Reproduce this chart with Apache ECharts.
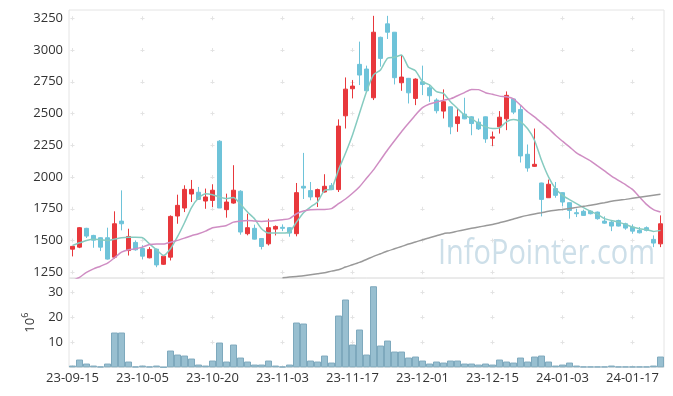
<!DOCTYPE html>
<html><head><meta charset="utf-8">
<script src="https://cdn.jsdelivr.net/npm/echarts@6/dist/echarts.min.js"></script>
<style>html,body{margin:0;padding:0;background:#fff}#c{width:673px;height:396px}</style>
</head><body><div id="c"></div>
<script>
const dates = ['23-09-15','23-09-18','23-09-19','23-09-20','23-09-21','23-09-22','23-09-25','23-09-26','23-09-27',
'23-10-04','23-10-05','23-10-06','23-10-10','23-10-11','23-10-12','23-10-13','23-10-16','23-10-17','23-10-18','23-10-19','23-10-20',
'23-10-23','23-10-24','23-10-25','23-10-26','23-10-27','23-10-30','23-10-31','23-11-01','23-11-02','23-11-03',
'23-11-06','23-11-07','23-11-08','23-11-09','23-11-10','23-11-13','23-11-14','23-11-15','23-11-16','23-11-17',
'23-11-20','23-11-21','23-11-22','23-11-23','23-11-24','23-11-27','23-11-28','23-11-29','23-11-30','23-12-01',
'23-12-04','23-12-05','23-12-06','23-12-07','23-12-08','23-12-11','23-12-12','23-12-13','23-12-14','23-12-15',
'23-12-18','23-12-19','23-12-20','23-12-21','23-12-22','23-12-26','23-12-27','23-12-28','24-01-02','24-01-03',
'24-01-04','24-01-05','24-01-08','24-01-09','24-01-10','24-01-11','24-01-12','24-01-15','24-01-16','24-01-17',
'24-01-18','24-01-19','24-01-22','24-01-23'];

const open  = [1432,1448,1596,1540,1522,1522,1369,1653,1421,1485,1437,1364,1432,1313,1369,1693,1756,1866,1880,1811,1816,2282,1743,1795,1888,1554,1596,1516,1474,1590,1604,1601,1554,1927,1893,1843,1882,1932,1901,2482,2695,2887,2850,2624,3100,3206,3140,2742,2777,2619,2750,2703,2606,2519,2553,2421,2495,2474,2432,2474,2306,2395,2458,2614,2532,2179,2084,1953,1837,1909,1877,1798,1719,1730,1732,1724,1653,1645,1658,1632,1606,1580,1601,1509,1474];
const close = [1454,1601,1535,1503,1448,1354,1632,1632,1532,1427,1377,1430,1308,1377,1690,1777,1903,1903,1824,1843,1896,1756,1803,1896,1567,1601,1511,1453,1601,1611,1596,1559,1877,1913,1843,1901,1927,1901,2401,2692,2716,2803,2679,3140,2934,3140,2782,2787,2663,2771,2729,2640,2522,2593,2395,2474,2458,2421,2379,2300,2316,2471,2643,2511,2166,2071,2100,1824,1943,1856,1803,1737,1711,1698,1711,1672,1637,1614,1614,1598,1574,1561,1580,1480,1632];
const low   = [1375,1440,1520,1443,1417,1350,1357,1580,1382,1420,1351,1360,1290,1308,1343,1632,1724,1803,1820,1750,1764,1756,1680,1790,1546,1541,1508,1430,1461,1540,1574,1530,1533,1827,1817,1764,1878,1896,1882,2382,2619,2724,2675,2606,2869,3087,2729,2679,2579,2566,2645,2592,2501,2461,2337,2356,2455,2329,2370,2269,2245,2342,2369,2495,2114,2042,2080,1690,1835,1837,1769,1672,1685,1695,1706,1664,1632,1574,1611,1585,1553,1556,1572,1448,1448];
const high  = [1458,1606,1600,1545,1525,1601,1730,1895,1593,1501,1463,1448,1437,1380,1698,1861,1935,1977,1922,1909,1943,2290,1869,2093,1896,1711,1625,1520,1672,1619,1627,1606,1953,2190,1961,1909,2022,1953,2454,2784,2763,3066,2877,3269,3105,3269,3142,2961,2780,2777,2877,2724,2620,2690,2556,2540,2624,2478,2461,2476,2358,2519,2674,2616,2566,2256,2382,1955,1980,1961,1879,1800,1751,1743,1737,1728,1690,1658,1664,1640,1627,1606,1611,1540,1698];

const ma5  = [1461,1482,1501,1511,1506,1501,1511,1522,1525,1525,1522,1474,1427,1382,1435,1530,1640,1760,1835,1869,1861,1843,1830,1838,1785,1724,1672,1593,1559,1559,1559,1566,1645,1719,1764,1803,1896,1906,2056,2187,2331,2502,2672,2804,2843,2935,2943,2961,2864,2837,2751,2725,2672,2658,2592,2540,2487,2461,2421,2395,2382,2387,2435,2453,2435,2382,2290,2132,2001,1909,1856,1822,1790,1759,1730,1706,1672,1658,1645,1627,1606,1593,1585,1572,1580];
const ma20 = [1185,1210,1250,1277,1298,1322,1364,1408,1427,1435,1448,1469,1472,1472,1487,1501,1519,1538,1554,1574,1601,1609,1619,1645,1653,1658,1653,1650,1653,1658,1664,1672,1711,1732,1743,1745,1745,1751,1790,1827,1872,1924,1990,2056,2134,2213,2286,2357,2423,2489,2546,2575,2590,2605,2615,2640,2665,2690,2688,2664,2651,2637,2632,2616,2566,2514,2474,2427,2382,2329,2282,2237,2190,2158,2127,2087,2048,2008,1974,1940,1903,1843,1785,1743,1724];
const ma60 = ['-','-','-','-','-','-','-','-','-','-','-','-','-','-','-','-','-','-','-','-','-','-','-','-','-','-','-','-','-','-',
1207,1212,1217,1222,1230,1238,1246,1259,1270,1291,1309,1328,1351,1375,1396,1417,1435,1453,1472,1488,1506,1522,1538,1554,1562,1574,1585,1596,1606,1617,1627,1640,1653,1669,1685,1698,1709,1719,1730,1738,1745,1753,1761,1769,1777,1788,1798,1809,1817,1824,1832,1840,1848,1856,1864];
const volume = [0.7,3.1,1.5,0.7,0.3,1.5,13.9,13.9,2.3,0.3,0.7,0.3,0.7,0.1,6.7,5.1,4.7,3.5,1.1,0.7,2.7,9.9,2.3,9.1,3.9,2.3,1.1,1.1,2.7,0.7,0.3,1.1,17.9,17.5,2.7,2.3,4.7,1.9,20.7,27.1,9.1,15.1,5.1,32.4,8.7,10.7,6.3,6.3,3.9,4.3,2.7,1.5,2.3,1.9,2.7,2.7,1.5,1.5,1.1,1.5,1.1,3.1,2.3,1.9,3.9,2.3,4.3,4.7,2.3,0.7,1.1,1.9,0.7,0.3,0.3,0.3,0.3,0.7,0.3,0.3,0.3,0.3,0.3,0.7,4.3];

const priceTickMin = 1250, priceTickMax = 3250, priceTickStep = 250;
const volTickStep = 10;
const watermark = 'InfoPointer.com';

// layout
const FONT = '"Open Sans", "Noto Sans", sans-serif';
const L = 69, W = 595;
const pTop = 10, pH = 268, pMin = 1205, pMax = 3315;
const k = pH / (pMax - pMin);
const lTop = pTop + (pMax - priceTickMax) * k;
const lH = (priceTickMax - priceTickMin) * k;
const vTop = pTop + pH, vH = 89.3, vMax = 35.7;
const plus = '#e3e3e3';
const tickPx = lH / ((priceTickMax - priceTickMin) / priceTickStep);
const volPx = vH * volTickStep / vMax;

const candles = dates.map((d, i) => [open[i], close[i], low[i], high[i]]);

// watermark width scale
const cv = document.createElement('canvas').getContext('2d');
cv.font = '35px "Open Sans"';
const wmScale = 217 / cv.measureText(watermark).width;

const hidden = {axisLine:{show:false},axisTick:{show:false},axisLabel:{show:false},splitLine:{show:false}};
const chart = echarts.init(document.getElementById('c'), null, {renderer:'canvas'});
chart.setOption({
  animation: false,
  backgroundColor: '#fff',
  graphic: [{
    type: 'text', z: 0, zlevel: 0, silent: true,
    x: 438, y: 254, scaleX: wmScale,
    style: {text: watermark, font: '35px "Open Sans"', fill: '#cddfe9', verticalAlign: 'middle', align: 'left'}
  }],
  grid: [
    {left: L, width: W, top: pTop, height: pH, show: true, borderColor: '#e4e4e4', borderWidth: 1, backgroundColor: 'transparent'},
    {left: L, width: W, top: lTop, height: lH, show: false},
    {left: L, width: W, top: vTop, height: vH, show: true, borderColor: '#e4e4e4', borderWidth: 1, backgroundColor: 'transparent'}
  ],
  xAxis: [
    {type: 'category', gridIndex: 0, data: dates, boundaryGap: true,
     axisLine:{show:false}, axisTick:{show:false}, axisLabel:{show:false},
     splitLine:{show:true, interval: 9, alignWithLabel: true,
       lineStyle:{color: plus, width: 1, type: [4, tickPx - 4], dashOffset: tickPx - ((lTop - pTop) - 2)}}},
    Object.assign({type: 'category', gridIndex: 1, data: dates, boundaryGap: true}, hidden),
    {type: 'category', gridIndex: 2, data: dates, boundaryGap: true,
     axisLine:{show:false}, axisTick:{show:false},
     axisLabel:{show:true, interval: 9, color:'#333', fontSize: 13, fontFamily: FONT, margin: 4},
     splitLine:{show:true, interval: 9, alignWithLabel: true,
       lineStyle:{color: plus, width: 1, type: [4, volPx - 4], dashOffset: volPx - ((vH - 3*volPx) - 2)}}}
  ],
  yAxis: [
    Object.assign({type: 'value', gridIndex: 0, min: pMin, max: pMax, scale: true}, hidden),
    {type: 'value', gridIndex: 1, min: priceTickMin, max: priceTickMax, interval: priceTickStep,
     axisLine:{show:false}, axisTick:{show:false},
     axisLabel:{color:'#333', fontSize: 13, fontFamily: FONT, margin: 6, formatter: v => String(v)},
     splitLine:{show:true, lineStyle:{color: plus, width: 1, type: [4, 66], dashOffset: 68.5}}},
    {type: 'value', gridIndex: 2, min: 0, max: vMax, interval: volTickStep,
     axisLine:{show:false}, axisTick:{show:false},
     axisLabel:{color:'#333', fontSize: 13, fontFamily: FONT, margin: 6, showMaxLabel: false, showMinLabel: false,
       formatter: v => (v > 0 && v % volTickStep === 0) ? String(v) : ''},
     splitLine:{show:true, lineStyle:{color: plus, width: 1, type: [4, 66], dashOffset: 68.5}},
     name: '{a|10}{b|6}', nameLocation: 'middle', nameRotate: 90, nameGap: 30,
     nameTextStyle: {color:'#333', fontFamily: FONT,
       rich: {a: {fontSize: 13, color:'#333', fontFamily: FONT, lineHeight: 16, verticalAlign: 'bottom'},
              b: {fontSize: 9, color:'#333', fontFamily: FONT, verticalAlign: 'top', lineHeight: 16}}}}
  ],
  series: [
    {type: 'candlestick', xAxisIndex: 0, yAxisIndex: 0, data: candles, barWidth: 5, z: 3,
     itemStyle: {color: '#e8383c', color0: '#6ec3d9', borderColor: '#e8383c', borderColor0: '#6ec3d9', borderWidth: 1}},
    {type: 'line', xAxisIndex: 0, yAxisIndex: 0, data: ma5, symbol: 'none', smooth: 0.2, z: 4,
     lineStyle: {color: '#86cbc0', width: 1.5}},
    {type: 'line', xAxisIndex: 0, yAxisIndex: 0, data: ma20, symbol: 'none', smooth: 0.2, z: 4,
     lineStyle: {color: '#cf8dc3', width: 1.5}},
    {type: 'line', xAxisIndex: 0, yAxisIndex: 0, data: ma60, symbol: 'none', smooth: 0.2, z: 4,
     lineStyle: {color: '#999999', width: 1.5}},
    {type: 'bar', xAxisIndex: 2, yAxisIndex: 2, data: volume, barWidth: '100%',
     itemStyle: {color: '#98bfd0', borderColor: '#7ea9bd', borderWidth: 1}}
  ]
});
</script></body></html>
